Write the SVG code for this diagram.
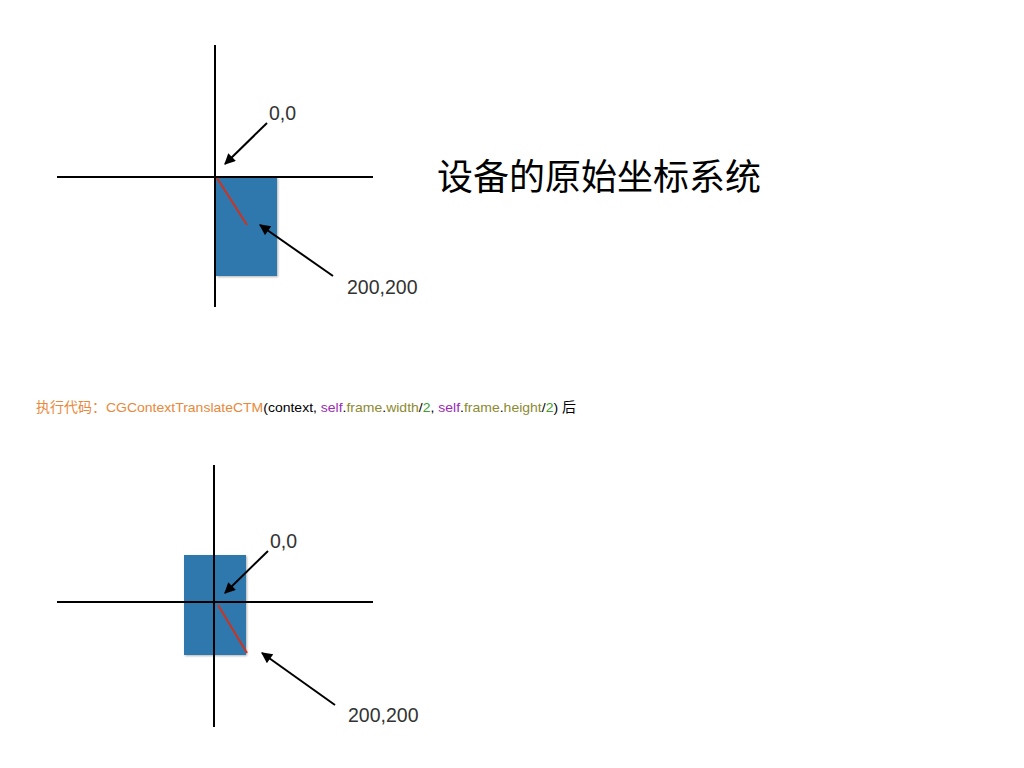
<svg xmlns="http://www.w3.org/2000/svg" width="1024" height="768" viewBox="0 0 1024 768">
<defs>
<marker id="ah" viewBox="0 0 10 10" refX="9" refY="5" markerWidth="12" markerHeight="11" markerUnits="userSpaceOnUse" orient="auto">
<path d="M0,0 L10,5 L0,10 z" fill="#000"/>
</marker>
<filter id="sh" x="-10%" y="-10%" width="130%" height="130%">
<feDropShadow dx="1" dy="1" stdDeviation="1" flood-color="#000" flood-opacity="0.3"/>
</filter>
</defs>
<style>
.axis{stroke:#000;stroke-width:2;fill:none}
.box{fill:#2E78AE;filter:url(#sh)}
.red{stroke:#D0321E;stroke-width:2}
.arr{stroke:#000;stroke-width:2;fill:none;marker-end:url(#ah)}
.lbl{font-family:"Liberation Sans",Arial,sans-serif;font-size:19.5px;fill:#333}
.title{font-family:"Noto Sans CJK SC",sans-serif;font-size:36px;font-weight:400;fill:#000}
.code{font-family:"Liberation Sans","Noto Sans CJK SC",sans-serif;font-size:13.5px;fill:#000}
.or{fill:#E8883A}.pu{fill:#9B2BB5}.ol{fill:#8C8A32}.gr{fill:#3E9E2E}
</style>
<rect width="1024" height="768" fill="#fff"/>
<g id="top-diagram">
<rect class="box" x="216" y="177" width="61" height="99"/>
<line class="axis" x1="215" y1="45" x2="215" y2="307"/>
<line class="axis" x1="57" y1="177" x2="373" y2="177"/>
<line class="red" x1="217" y1="178" x2="247" y2="225"/>
</g>
<g id="bottom-diagram">
<rect class="box" x="184" y="555" width="62" height="100"/>
<line class="axis" x1="214" y1="465" x2="214" y2="727"/>
<line class="axis" x1="57" y1="602" x2="373" y2="602"/>
<line class="red" x1="218" y1="605" x2="247" y2="653"/>
</g>
<g id="connectors">
<line class="arr" x1="267" y1="123" x2="225" y2="164"/>
<line class="arr" x1="333" y1="276" x2="260" y2="225"/>
<line class="arr" x1="268" y1="551" x2="225" y2="593"/>
<line class="arr" x1="335" y1="705" x2="262" y2="653"/>
</g>
<g id="labels">
<text class="lbl" x="269" y="120">0,0</text>
<text class="lbl" x="347" y="294">200,200</text>
<text class="lbl" x="270" y="548">0,0</text>
<text class="lbl" x="348" y="722">200,200</text>
<text class="title" x="437" y="190">设备的原始坐标系统</text>
<text class="code" x="36" y="412" textLength="540" lengthAdjust="spacingAndGlyphs"><tspan class="or">执行代码：CGContextTranslateCTM</tspan>(context, <tspan class="pu">self</tspan>.<tspan class="ol">frame</tspan>.<tspan class="ol">width</tspan>/<tspan class="gr">2</tspan>, <tspan class="pu">self</tspan>.<tspan class="ol">frame</tspan>.<tspan class="ol">height</tspan>/<tspan class="gr">2</tspan>) 后</text>
</g>
</svg>
